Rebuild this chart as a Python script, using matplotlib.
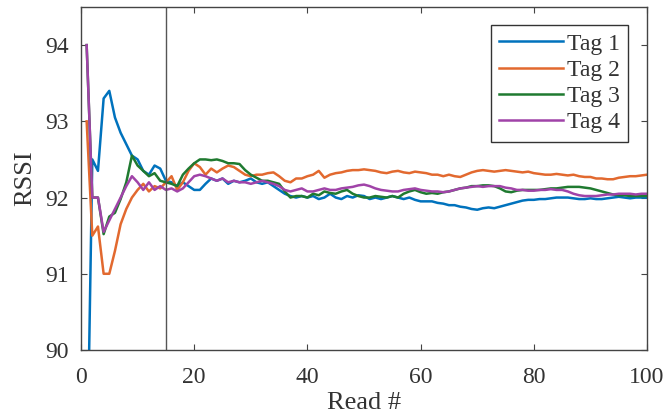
import numpy as np
import matplotlib
matplotlib.use('Agg')
import matplotlib.pyplot as plt

# running RSSI per tag, reads 1..100
reads = list(range(1, 101))

tag1 = [88.0, 92.5, 92.35, 93.3, 93.4, 93.05, 92.85, 92.7, 92.55, 92.5,
        92.35, 92.3, 92.42, 92.38, 92.22, 92.2, 92.15, 92.2, 92.15, 92.1,
        92.1, 92.18, 92.25, 92.22, 92.25, 92.18, 92.22, 92.2, 92.22, 92.25,
        92.2, 92.18, 92.2, 92.15, 92.1, 92.05, 92.02, 92.0, 92.02, 92.0,
        92.02, 91.98, 92.0, 92.05, 92.0, 91.98, 92.02, 92.0, 92.03, 92.02,
        91.98, 92.0, 91.98, 92.0, 92.02, 92.0, 91.98, 92.0, 91.97, 91.95,
        91.95, 91.95, 91.93, 91.92, 91.9, 91.9, 91.88, 91.87, 91.85, 91.84,
        91.86, 91.87, 91.86, 91.88, 91.9, 91.92, 91.94, 91.96, 91.97, 91.97,
        91.98, 91.98, 91.99, 92.0, 92.0, 92.0, 91.99, 91.98, 91.98, 91.99,
        91.98, 91.98, 91.99, 92.0, 92.01, 92.0, 91.99, 92.0, 92.0, 92.0]

tag2 = [93.0, 91.5, 91.62, 91.0, 91.0, 91.3, 91.65, 91.85, 92.0, 92.1,
        92.18, 92.08, 92.15, 92.12, 92.2, 92.28, 92.1, 92.2, 92.35, 92.45,
        92.4, 92.3, 92.38, 92.33, 92.38, 92.42, 92.4, 92.35, 92.3, 92.28,
        92.3, 92.3, 92.32, 92.33, 92.28, 92.22, 92.2, 92.25, 92.25, 92.28,
        92.3, 92.35, 92.26, 92.3, 92.32, 92.33, 92.35, 92.36, 92.36, 92.37,
        92.36, 92.35, 92.33, 92.32, 92.34, 92.35, 92.33, 92.32, 92.34, 92.33,
        92.32, 92.3, 92.3, 92.28, 92.3, 92.28, 92.27, 92.3, 92.33, 92.35,
        92.36, 92.35, 92.34, 92.35, 92.36, 92.35, 92.34, 92.33, 92.34, 92.32,
        92.31, 92.3, 92.3, 92.31, 92.3, 92.29, 92.3, 92.28, 92.27, 92.27,
        92.25, 92.25, 92.24, 92.24, 92.26, 92.27, 92.28, 92.28, 92.29, 92.3]

tag3 = [94.0, 92.0, 92.0, 91.52, 91.75, 91.8, 91.98, 92.2, 92.55, 92.42,
        92.35, 92.28, 92.32, 92.22, 92.2, 92.18, 92.15, 92.3, 92.38, 92.45,
        92.5, 92.5, 92.49, 92.5, 92.48, 92.45, 92.45, 92.44, 92.36, 92.3,
        92.26, 92.22, 92.22, 92.2, 92.18, 92.08, 92.0, 92.02, 92.02, 92.0,
        92.05, 92.03, 92.08, 92.06, 92.05, 92.08, 92.1, 92.05, 92.02, 92.0,
        92.0, 92.02, 92.01, 92.0, 92.02, 92.0, 92.05, 92.08, 92.1, 92.07,
        92.05, 92.06, 92.05, 92.07, 92.08, 92.1, 92.12, 92.13, 92.15, 92.15,
        92.16, 92.16, 92.15, 92.12, 92.08, 92.07, 92.09, 92.1, 92.1, 92.1,
        92.1, 92.11, 92.12, 92.12, 92.13, 92.14, 92.14, 92.14, 92.13, 92.12,
        92.1, 92.08, 92.06, 92.04, 92.03, 92.03, 92.02, 92.02, 92.02, 92.02]

tag4 = [94.0, 92.0, 92.0, 91.55, 91.7, 91.85, 92.0, 92.15, 92.28, 92.2,
        92.1, 92.2, 92.1, 92.15, 92.1, 92.12, 92.08, 92.12, 92.2, 92.28,
        92.3, 92.28, 92.25, 92.22, 92.25, 92.2, 92.22, 92.2, 92.2, 92.18,
        92.2, 92.22, 92.2, 92.18, 92.15, 92.1, 92.08, 92.1, 92.12, 92.08,
        92.08, 92.1, 92.12, 92.1, 92.1, 92.12, 92.13, 92.14, 92.16, 92.17,
        92.15, 92.12, 92.1, 92.09, 92.08, 92.08, 92.1, 92.11, 92.12, 92.1,
        92.09, 92.08, 92.08, 92.07, 92.08, 92.1, 92.12, 92.13, 92.14, 92.15,
        92.14, 92.15, 92.15, 92.15, 92.13, 92.12, 92.1, 92.1, 92.09, 92.09,
        92.1, 92.1, 92.11, 92.1, 92.1, 92.08, 92.05, 92.03, 92.02, 92.02,
        92.02, 92.03, 92.04, 92.04, 92.05, 92.05, 92.05, 92.04, 92.05, 92.05]

labels = ['Tag 1', 'Tag 2', 'Tag 3', 'Tag 4']
cut_read = 15

plt.rcParams['font.family'] = ['Liberation Serif', 'DejaVu Serif']

fig = plt.figure(figsize=(6.66, 4.19), dpi=100)
ax = fig.add_axes([0.1216, 0.1647, 0.85, 0.8186])

colors = ['#0072BD', '#E2692F', '#1F7A30', '#A043A8']
for vals, lab, c in zip([tag1, tag2, tag3, tag4], labels, colors):
    ax.plot(reads, vals, color=c, lw=1.8, label=lab)

ax.axvline(cut_read, color='#555555', lw=1.0)

ax.set_xlim(0, 100)
ax.set_ylim(90, 94.5)
ax.set_xticks([0, 20, 40, 60, 80, 100])
ax.set_yticks([90, 91, 92, 93, 94])
ax.tick_params(direction='in', top=True, right=True, labelsize=17, length=4,
               color='#444444', labelcolor='#333333')
ax.tick_params(axis='x', pad=12)
ax.tick_params(axis='y', pad=9)
for s in ax.spines.values():
    s.set_color('#444444')
    s.set_linewidth(1.0)

ax.set_xlabel('Read #', fontsize=19, labelpad=3, color='#333333')
ax.set_ylabel('RSSI', fontsize=19, labelpad=6, color='#333333')

leg = ax.legend(loc='upper right', bbox_to_anchor=(0.966, 0.948), borderaxespad=0,
                fontsize=17, handlelength=2.7, handletextpad=0.15, labelspacing=0.2,
                borderpad=0.35, fancybox=False, framealpha=1, edgecolor='#333333')
leg.get_frame().set_linewidth(1.0)
for t in leg.get_texts():
    t.set_color('#333333')

fig.savefig('out.png', dpi=100)
